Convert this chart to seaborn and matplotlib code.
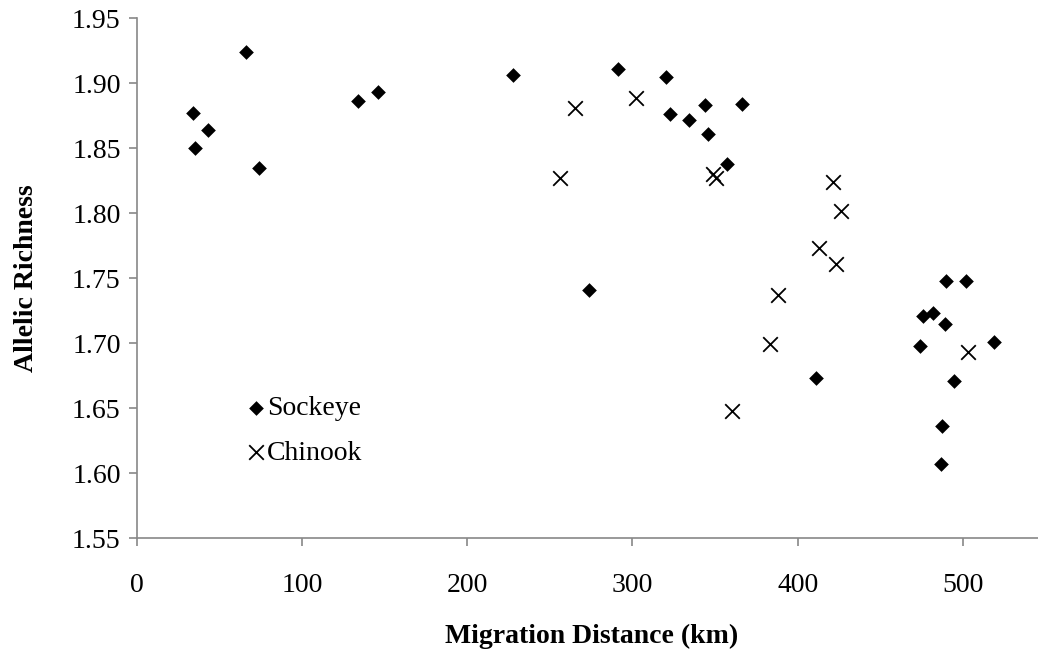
import matplotlib
matplotlib.use("Agg")
import matplotlib.pyplot as plt
import seaborn as sns
import pandas as pd

# Migration distance (km) and allelic richness per population
sockeye_km = [66, 34, 43, 35.5, 74, 134, 146, 227.5, 291, 320, 323, 334, 344,
              366.5, 345.5, 357, 274, 411, 494.5, 487.5, 487, 474, 476, 482,
              489, 490, 502, 519]
sockeye_ar = [1.924, 1.877, 1.864, 1.850, 1.835, 1.886, 1.893, 1.906, 1.911,
              1.905, 1.876, 1.872, 1.883, 1.884, 1.861, 1.838, 1.741, 1.673,
              1.671, 1.636, 1.607, 1.698, 1.721, 1.723, 1.715, 1.748, 1.748,
              1.701]

chinook_km = [265, 302, 256, 349, 350.5, 421.5, 426.5, 413, 423, 388, 383,
              360.5, 503]
chinook_ar = [1.881, 1.889, 1.827, 1.830, 1.827, 1.824, 1.802, 1.773, 1.761,
              1.737, 1.699, 1.648, 1.693]

x_ticks = [0, 100, 200, 300, 400, 500]
y_ticks = [1.55, 1.60, 1.65, 1.70, 1.75, 1.80, 1.85, 1.90, 1.95]

sockeye = pd.DataFrame({"km": sockeye_km, "ar": sockeye_ar})
chinook = pd.DataFrame({"km": chinook_km, "ar": chinook_ar})

sns.set_theme(style="white")
plt.rcParams["font.family"] = ["Liberation Serif", "DejaVu Serif"]
plt.rcParams["text.color"] = "black"
plt.rcParams["axes.labelcolor"] = "black"

fig = plt.figure(figsize=(10.38, 6.57), dpi=100)
ax = fig.add_axes([0.1317, 0.1811, 0.8756, 0.7910])

sns.scatterplot(data=sockeye, x="km", y="ar", marker="D", s=56, color="black",
                linewidth=0, label="Sockeye", ax=ax, clip_on=False)
sns.scatterplot(data=chinook, x="km", y="ar", marker="x", s=110, color="black",
                linewidth=1.3, label="Chinook", ax=ax, clip_on=False)

ax.set_xlim(0, 550)
ax.set_ylim(1.55, 1.95)
ax.set_xticks(x_ticks)
ax.set_yticks(y_ticks)
ax.set_xticklabels([str(v) for v in x_ticks])
ax.set_yticklabels([f"{v:.2f}" for v in y_ticks])

grey = "#888888"
for side in ("top", "right"):
    ax.spines[side].set_visible(False)
for side in ("left", "bottom"):
    ax.spines[side].set_color(grey)
    ax.spines[side].set_linewidth(1.2)

ax.tick_params(axis="both", direction="out", length=5.5, width=1.2,
               color=grey, labelsize=20, labelcolor="black")
ax.tick_params(axis="x", pad=20)
ax.tick_params(axis="y", pad=6)
ax.tick_params(bottom=True, left=True)

ax.set_xlabel("Migration Distance (km)", fontsize=20, fontweight="bold")
ax.set_ylabel("Allelic Richness", fontsize=20, fontweight="bold", labelpad=23.5)
ax.xaxis.set_label_coords(0.5, -0.165)

leg = ax.legend(loc="upper left", bbox_to_anchor=(0.107, 0.300), frameon=False,
                fontsize=20, handlelength=0.6, handletextpad=0.1,
                labelspacing=0.67, borderpad=0)

fig.savefig("out.png", dpi=100)
